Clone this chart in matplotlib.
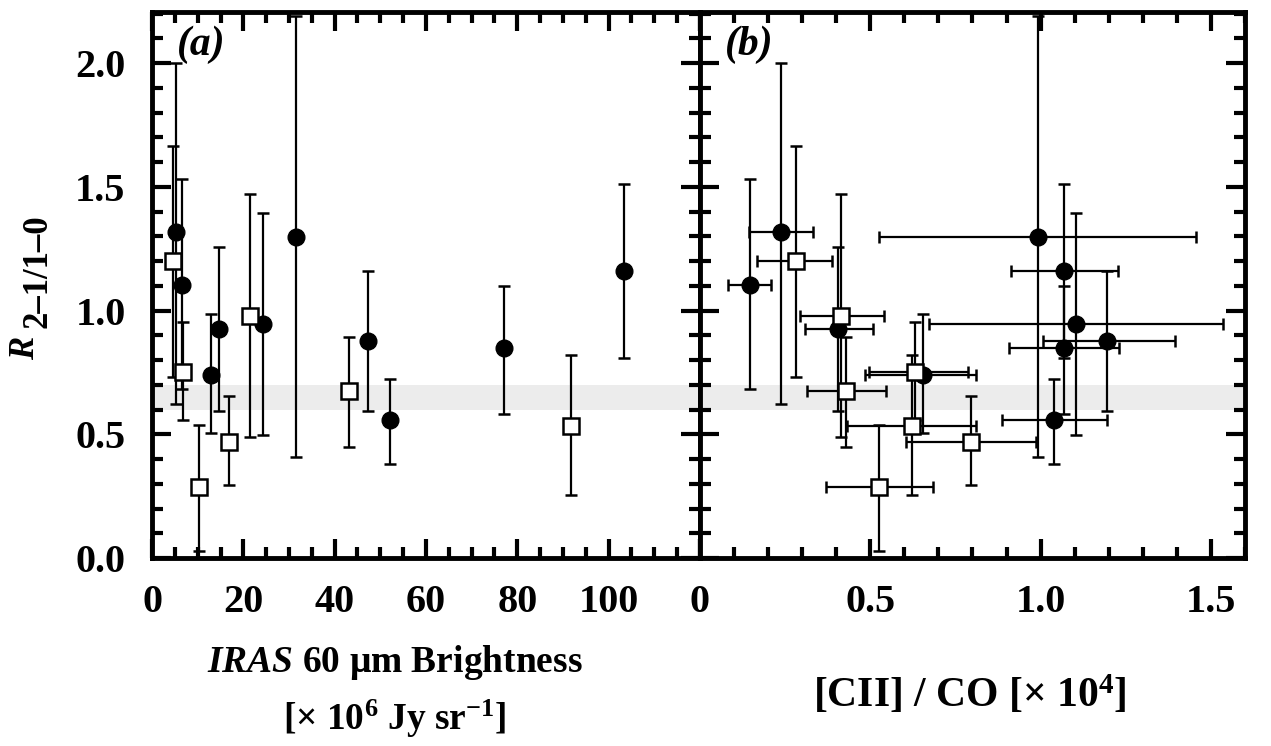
import matplotlib
matplotlib.use('Agg')
import matplotlib.pyplot as plt
from matplotlib.ticker import MultipleLocator, FuncFormatter
import numpy as np

plt.rcParams['font.family'] = ['Liberation Serif', 'DejaVu Serif']
plt.rcParams['font.weight'] = 'bold'
plt.rcParams['axes.labelweight'] = 'bold'
plt.rcParams['mathtext.fontset'] = 'custom'
plt.rcParams['mathtext.rm'] = 'Liberation Serif:bold'
plt.rcParams['mathtext.bf'] = 'Liberation Serif:bold'
plt.rcParams['mathtext.it'] = 'Liberation Serif:italic:bold'
plt.rcParams['mathtext.bfit'] = 'Liberation Serif:italic:bold'

# filled circles
iras_c = [5.2, 6.6, 13.0, 14.7, 24.2, 31.5, 47.4, 52.2, 77.0, 103.3]
ratio_c = [1.317, 1.105, 0.741, 0.924, 0.944, 1.297, 0.877, 0.556, 0.85, 1.161]
ratio_c_hi = [2.0, 1.53, 0.985, 1.257, 1.396, 2.19, 1.161, 0.722, 1.10, 1.51]
ratio_c_lo = [0.623, 0.683, 0.505, 0.596, 0.497, 0.41, 0.596, 0.379, 0.583, 0.809]
cii_c = [0.237, 0.147, 0.654, 0.406, 1.104, 0.991, 1.196, 1.04, 1.069, 1.069]
cii_c_lo = [0.145, 0.083, 0.485, 0.309, 0.673, 0.526, 1.006, 0.886, 0.907, 0.913]
cii_c_hi = [0.331, 0.21, 0.81, 0.507, 1.535, 1.456, 1.395, 1.196, 1.231, 1.226]

# open squares
iras_s = [4.5, 6.8, 10.4, 16.8, 21.4, 43.2, 91.7]
ratio_s = [1.20, 0.752, 0.285, 0.467, 0.98, 0.674, 0.535]
ratio_s_hi = [1.667, 0.955, 0.538, 0.653, 1.473, 0.895, 0.82]
ratio_s_lo = [0.73, 0.557, 0.028, 0.294, 0.488, 0.45, 0.256]
cii_s = [0.281, 0.631, 0.527, 0.795, 0.414, 0.428, 0.624]
cii_s_lo = [0.168, 0.496, 0.37, 0.605, 0.294, 0.313, 0.431]
cii_s_hi = [0.387, 0.788, 0.683, 0.986, 0.541, 0.546, 0.811]

band = (0.6, 0.7)


def asym(v, lo, hi):
    v, lo, hi = np.array(v), np.array(lo), np.array(hi)
    return [v - lo, hi - v]


fig = plt.figure(figsize=(12.71, 7.46), dpi=100)
axa = fig.add_axes([0.1196, 0.252, 0.4311, 0.732])
axb = fig.add_axes([0.5507, 0.252, 0.4288, 0.732])

ebkw = dict(ls='none', ecolor='black', elinewidth=1.6, capsize=4.5, capthick=1.8)

for ax, xc, xs, xerr_c, xerr_s in [
        (axa, iras_c, iras_s, None, None),
        (axb, cii_c, cii_s, asym(cii_c, cii_c_lo, cii_c_hi), asym(cii_s, cii_s_lo, cii_s_hi))]:
    ax.axhspan(band[0], band[1], color='#ececec', lw=0, zorder=0)
    ax.errorbar(xc, ratio_c, yerr=asym(ratio_c, ratio_c_lo, ratio_c_hi), xerr=xerr_c,
                marker='o', ms=12, mfc='black', mec='black', zorder=2, **ebkw)
    ax.errorbar(xs, ratio_s, yerr=asym(ratio_s, ratio_s_lo, ratio_s_hi), xerr=xerr_s,
                marker='s', ms=11, mfc='white', mec='black', mew=1.8, zorder=3, **ebkw)
    ax.set_ylim(0, 2.207)
    ax.yaxis.set_major_locator(MultipleLocator(0.5))
    ax.yaxis.set_minor_locator(MultipleLocator(0.1))
    ax.tick_params(which='both', direction='in', top=True, right=True, width=3,
                   labelsize=29, pad=19)
    ax.tick_params(which='major', length=14)
    ax.tick_params(which='minor', length=8)
    for s in ax.spines.values():
        s.set_linewidth(3.5)

axa.set_xlim(0, 120)
axa.xaxis.set_major_locator(MultipleLocator(20))
axa.xaxis.set_minor_locator(MultipleLocator(5))
axa.xaxis.set_major_formatter(FuncFormatter(lambda v, p: '' if v > 110 else '%d' % v))
axa.yaxis.set_major_formatter(FuncFormatter(lambda v, p: '%.1f' % v))

axb.set_xlim(0, 1.6)
axb.xaxis.set_major_locator(MultipleLocator(0.5))
axb.xaxis.set_minor_locator(MultipleLocator(0.1))
axb.xaxis.set_major_formatter(FuncFormatter(lambda v, p: '0' if v == 0 else '%.1f' % v))
axb.tick_params(labelleft=False)

axa.text(0.045, 0.975, '(a)', transform=axa.transAxes, fontsize=30, style='italic',
         fontweight='bold', va='top', ha='left')
axb.text(0.045, 0.975, '(b)', transform=axb.transAxes, fontsize=30, style='italic',
         fontweight='bold', va='top', ha='left')

# y label: italic R with a full-size subscript, as in the original
fig.text(0.027, 0.517, 'R', rotation=90, rotation_mode='anchor', ha='left',
         va='baseline', fontsize=25, style='italic', fontweight='bold')
fig.text(0.0365, 0.560, '2\u20131/1\u20130', rotation=90, rotation_mode='anchor',
         ha='left', va='baseline', fontsize=25, fontweight='bold')

axa.set_xlabel('$\\mathbfit{IRAS}$ 60 \u03bcm Brightness\n'
               '[\u00d7 10$^{\\mathbf{6}}$ Jy sr$^{\\mathbf{-1}}$]',
               fontsize=27, linespacing=1.5)
axa.xaxis.set_label_coords(0.443, -0.155)
axb.set_xlabel('[CII] / CO [\u00d7 10$^{\\mathbf{4}}$]', fontsize=30)
axb.xaxis.set_label_coords(0.495, -0.21)

fig.savefig('out.png', dpi=100)
